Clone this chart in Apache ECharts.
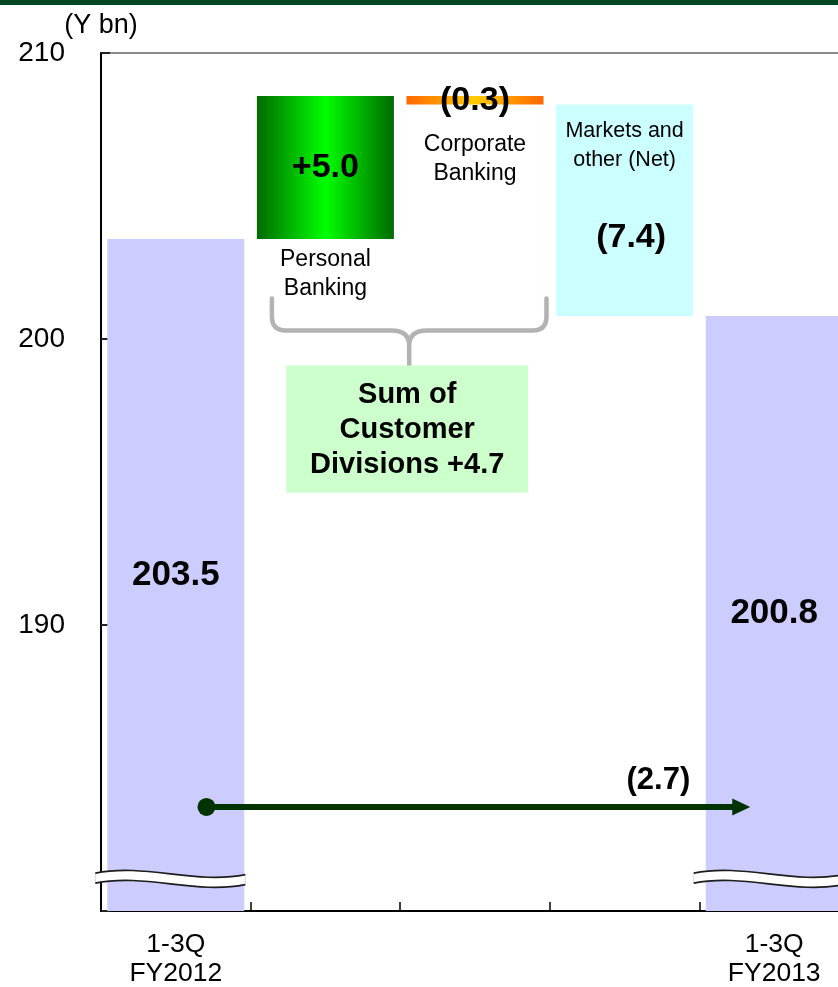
<!DOCTYPE html>
<html>
<head>
<meta charset="utf-8">
<script src="https://cdn.jsdelivr.net/npm/echarts@6/dist/echarts.min.js"></script>
<style>
  html, body { margin: 0; padding: 0; background: #ffffff; }
  #chart { width: 838px; height: 987px; }
</style>
</head>
<body>
<div id="chart"></div>
<script>
// ---- data ----
const categories = ['1-3Q\nFY2012', 'Personal\nBanking', 'Corporate\nBanking', 'Markets and\nother (Net)', '1-3Q\nFY2013'];
const startValue = 203.5;
const deltas = [5.0, -0.3, -7.4];          // Personal, Corporate, Markets and other
const endValue = 200.8;
const customerDivisionIdx = [0, 1];         // deltas that make up the customer divisions
const yMin = 180, yMax = 210, yStep = 10;

// ---- styling ----
const FONT = '"Liberation Sans", Arial, Helvetica, sans-serif';
const LAVENDER = '#ccccff';
const CYAN = '#ccffff';
const BAR_W = 137;
const greenGrad = new echarts.graphic.LinearGradient(0, 0, 1, 0, [
  { offset: 0, color: '#006a00' }, { offset: 0.5, color: '#00ff00' }, { offset: 1, color: '#006a00' }
]);
const orangeGrad = new echarts.graphic.LinearGradient(0, 0, 1, 0, [
  { offset: 0, color: '#ff6600' }, { offset: 0.5, color: '#ffcc00' }, { offset: 1, color: '#ff6600' }
]);
const deltaFills = [greenGrad, orangeGrad, CYAN];

const fmtDelta = d => d >= 0 ? '+' + d.toFixed(1) : '(' + (-d).toFixed(1) + ')';
const totalNum = { fontSize: 35, fontWeight: 'bold', color: '#000', fontFamily: FONT };
const deltaNum = { fontSize: 34, fontWeight: 'bold', color: '#000', fontFamily: FONT };

// ---- waterfall: invisible base + visible segment ----
const baseData = ['-'];
const segData = [{
  value: startValue,
  itemStyle: { color: LAVENDER },
  label: { show: true, position: 'inside', formatter: startValue.toFixed(1), ...totalNum }
}];
let running = startValue;
deltas.forEach((d, i) => {
  const next = running + d;
  const lo = Math.min(running, next);
  const ci = i + 1;
  const nameLines = categories[ci].split('\n');
  if (i < 2) {
    // name shown under the floating block
    baseData.push({
      value: lo,
      label: {
        show: true, position: 'insideTop', distance: i === 0 ? 6 : 26,
        formatter: categories[ci], fontSize: 23, lineHeight: 29, color: '#000', fontFamily: FONT
      }
    });
    segData.push({
      value: Math.abs(d),
      itemStyle: { color: deltaFills[i] },
      label: { show: true, position: 'inside', formatter: fmtDelta(d), ...deltaNum }
    });
  } else {
    baseData.push(lo);
    segData.push({
      value: Math.abs(d),
      itemStyle: { color: deltaFills[i] },
      label: {
        show: true, position: 'insideTop', distance: 12,
        formatter: nameLines.map(s => '{t|' + s + '}').join('\n') + '\n{v|' + fmtDelta(d) + '}',
        rich: {
          t: { fontSize: 21.5, lineHeight: 29, color: '#000', fontFamily: FONT },
          v: { fontSize: 34, fontWeight: 'bold', lineHeight: 127, color: '#000', fontFamily: FONT, padding: [0, 0, 0, 13] }
        }
      }
    });
  }
  running = next;
});
baseData.push('-');
segData.push({
  value: endValue,
  itemStyle: { color: LAVENDER },
  label: { show: true, position: 'inside', formatter: endValue.toFixed(1), ...totalNum }
});

const lastIdx = categories.length - 1;
const breakLevel = 181.15;     // where the axis-break marks sit on the tall bars
const arrowLevel = 183.64;     // height of the overall change arrow
const braceLevel = 201.42;     // top of the brace under the customer divisions
const customerSum = customerDivisionIdx.reduce((s, i) => s + deltas[i], 0);

const chart = echarts.init(document.getElementById('chart'), null, { renderer: 'canvas' });

chart.setOption({
  animation: false,
  backgroundColor: '#ffffff',
  textStyle: { fontFamily: FONT },
  grid: {
    left: 101, top: 53, width: 748, height: 858,
    show: true, borderColor: '#8a8a8a', borderWidth: 2,
    containLabel: false, outerBoundsMode: 'none'
  },
  xAxis: {
    type: 'category',
    data: categories,
    boundaryGap: true,
    axisLine: { show: true, lineStyle: { color: '#000', width: 2 } },
    axisTick: { show: true, inside: true, length: 9, interval: 0, lineStyle: { color: '#000', width: 1.5 } },
    axisLabel: {
      interval: 0, margin: 19, fontSize: 26.5, lineHeight: 29, color: '#000', fontFamily: FONT,
      formatter: (v, i) => (i === 0 || i === lastIdx) ? v : ''
    },
    splitLine: { show: false }
  },
  yAxis: {
    type: 'value',
    min: yMin, max: yMax, interval: yStep,
    name: '(Y bn)', nameLocation: 'end', nameGap: 14,
    nameTextStyle: { fontSize: 27, color: '#000', fontFamily: FONT },
    axisLine: { show: true, lineStyle: { color: '#000', width: 2 } },
    axisTick: { show: true, inside: true, length: 9, lineStyle: { color: '#222', width: 2 } },
    axisLabel: {
      margin: 36, fontSize: 28, color: '#000', fontFamily: FONT,
      formatter: v => v === yMin ? '' : String(v)
    },
    splitLine: { show: false }
  },
  graphic: [
    { type: 'rect', left: 0, top: 0, shape: { width: 838, height: 5 }, style: { fill: '#004620' }, z: 100 }
  ],
  series: [
    {
      name: 'base', type: 'bar', stack: 'wf', barWidth: BAR_W, silent: true,
      itemStyle: { color: 'rgba(0,0,0,0)' },
      data: baseData, z: 2
    },
    {
      name: 'segment', type: 'bar', stack: 'wf', barWidth: BAR_W, silent: true,
      data: segData, z: 2
    },
    {
      // axis-break marks across the two tall bars
      name: 'break', type: 'custom', silent: true, z: 4,
      encode: { x: 0, y: 1 },
      data: [[0, breakLevel], [lastIdx, breakLevel]],
      renderItem(params, api) {
        const c = api.coord([api.value(0), api.value(1)]);
        const L = c[0] - BAR_W / 2 - 12, R = c[0] + BAR_W / 2 + 1;
        const w = R - L, h = 5, a = 10, tilt = 1.5;
        const yt0 = c[1] - h, yt1 = c[1] - h + tilt;
        const yb0 = c[1] + h, yb1 = c[1] + h + tilt;
        const top = `M${L} ${yt0} C${L + w / 3} ${yt0 - a} ${L + 2 * w / 3} ${yt1 + a} ${R} ${yt1}`;
        const bot = `M${L} ${yb0} C${L + w / 3} ${yb0 - a} ${L + 2 * w / 3} ${yb1 + a} ${R} ${yb1}`;
        const fill = top + ` L${R} ${yb1} C${L + 2 * w / 3} ${yb1 + a} ${L + w / 3} ${yb0 - a} ${L} ${yb0} Z`;
        return {
          type: 'group',
          children: [
            { type: 'path', shape: { pathData: fill }, style: { fill: '#ffffff', stroke: '#d8d8d8', lineWidth: 1 } },
            { type: 'path', shape: { pathData: top }, style: { fill: null, stroke: '#1e1e1e', lineWidth: 1.6 } },
            { type: 'path', shape: { pathData: bot }, style: { fill: null, stroke: '#1e1e1e', lineWidth: 1.6 } }
          ]
        };
      }
    },
    {
      // overall change arrow from the first to the last period
      name: 'change', type: 'custom', silent: true, z: 5,
      encode: { x: [0, 1], y: 2 },
      data: [[0, lastIdx, arrowLevel]],
      renderItem(params, api) {
        const yv = api.value(2);
        const p0 = api.coord([api.value(0), yv]);
        const p1 = api.coord([api.value(1), yv]);
        const band = api.size([1, 0])[0];
        const x0 = p0[0] + band * 0.205, x1 = p1[0] - band * 0.16, y = p0[1];
        const col = '#003300';
        return {
          type: 'group',
          children: [
            { type: 'line', shape: { x1: x0, y1: y, x2: x1 - 14, y2: y }, style: { stroke: col, lineWidth: 6 } },
            { type: 'polygon', shape: { points: [[x1 - 18, y - 8.5], [x1, y], [x1 - 18, y + 8.5]] }, style: { fill: col } },
            { type: 'circle', shape: { cx: x0, cy: y, r: 9 }, style: { fill: col } },
            {
              type: 'text', x: x1 - 60, y: y - 26,
              style: { text: fmtDelta(endValue - startValue), align: 'right', verticalAlign: 'middle',
                       font: 'bold 31px ' + FONT, fill: '#000' }
            }
          ]
        };
      }
    },
    {
      // brace and total for the customer divisions
      name: 'customer', type: 'custom', silent: true, z: 5,
      encode: { x: [0, 1], y: 2 },
      data: [[customerDivisionIdx[0] + 1, customerDivisionIdx[customerDivisionIdx.length - 1] + 1, braceLevel]],
      renderItem(params, api) {
        const yv = api.value(2);
        const a = api.coord([api.value(0), yv]);
        const b = api.coord([api.value(1), yv]);
        const xL = a[0] - BAR_W / 2 + 15, xR = b[0] + BAR_W / 2 + 3, xM = (xL + xR) / 2;
        const yT = a[1], yH = yT + 32, yC = yH + 15, yS = yT + 70, r = 14;
        const brace =
          `M${xL} ${yT} L${xL} ${yH - r} Q${xL} ${yH} ${xL + r} ${yH} L${xM - 18} ${yH} Q${xM} ${yH} ${xM} ${yC} L${xM} ${yS} ` +
          `M${xR} ${yT} L${xR} ${yH - r} Q${xR} ${yH} ${xR - r} ${yH} L${xM + 18} ${yH} Q${xM} ${yH} ${xM} ${yC}`;
        const boxW = 242, boxH = 127, boxTop = yT + 67, boxX = xM - 2 - boxW / 2;
        return {
          type: 'group',
          children: [
            { type: 'path', shape: { pathData: brace }, style: { fill: null, stroke: '#b3b3b3', lineWidth: 4.5, lineCap: 'round', lineJoin: 'round' } },
            { type: 'rect', shape: { x: boxX, y: boxTop, width: boxW, height: boxH }, style: { fill: '#ccffcc' } },
            {
              type: 'text', x: boxX + boxW / 2, y: boxTop + boxH / 2 + 1,
              style: { text: 'Sum of\nCustomer\nDivisions ' + fmtDelta(customerSum), align: 'center', verticalAlign: 'middle',
                       font: 'bold 29px ' + FONT, lineHeight: 35, fill: '#000' }
            }
          ]
        };
      }
    }
  ]
});
</script>
</body>
</html>
